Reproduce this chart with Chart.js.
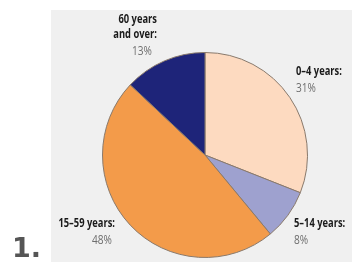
<!DOCTYPE html>
<html>
<head>
<meta charset="utf-8">
<script src="https://cdn.jsdelivr.net/npm/chart.js@4/dist/chart.umd.min.js"></script>
<style>
  html, body { margin: 0; padding: 0; background: #ffffff; }
  #pie { display: block; }
</style>
</head>
<body>
<canvas id="pie" width="352" height="265"></canvas>
<script>
// age groups, share of population (%)
var ageGroups = ["0–4 years:", "5–14 years:", "15–59 years:", "60 years and over:"];
var shares = [31, 8, 48, 13];
var sliceColors = ["#fddac0", "#9ea1cf", "#f39b4a", "#1e2479"];

// label text lines for each slice (name lines, percent goes below)
var labelLines = [
    ["0–4 years:"],
    ["5–14 years:"],
    ["15–59 years:"],
    ["60 years", "and over:"]
];

var boldFont = "bold 13px 'Open Sans', 'DejaVu Sans', sans-serif";
var regFont = "13px 'Open Sans', 'DejaVu Sans', sans-serif";
var squeeze = 0.72; // fake a condensed face

function narrowText(ctx, txt, x, y, k) {
    var w = ctx.measureText(txt).width;
    ctx.fillText(txt, x, y, w * (k || squeeze));
}

var panelPlugin = {
    id: 'panel',
    beforeDraw: function(chart) {
        var ctx = chart.ctx;
        ctx.save();
        ctx.fillStyle = "#f0f0f0";
        ctx.fillRect(51, 10, 301, 252);
        ctx.restore();
    },
    afterDraw: function(chart) {
        var ctx = chart.ctx;
        // where each label block sits: x, first baseline, alignment
        var spots = [
            { x: 296, y: 75, align: "left" },
            { x: 294, y: 227, align: "left" },
            { x: 115, y: 227, align: "right", pctX: 112 },
            { x: 157, y: 23, align: "right", pctX: 152 }
        ];
        ctx.save();
        spots.forEach(function(s, i) {
            ctx.textAlign = s.align;
            ctx.textBaseline = "alphabetic";
            ctx.fillStyle = "#1a1a1a";
            ctx.font = boldFont;
            var y = s.y;
            labelLines[i].forEach(function(line) {
                narrowText(ctx, line, s.x, y);
                y += 15;
            });
            ctx.fillStyle = "#6e6e6e";
            ctx.font = regFont;
            narrowText(ctx, shares[i] + "%", s.pctX || s.x, y + 2, 0.78);
        });
        // figure number
        ctx.textAlign = "left";
        ctx.fillStyle = "#555555";
        ctx.font = "bold 27px 'DejaVu Sans', sans-serif";
        ctx.fillText("1.", 12, 257);
        ctx.restore();
    }
};

var ctx = document.getElementById("pie");
var PieChart = new Chart(ctx, {
    type: 'pie',
    data: {
        labels: ageGroups,
        datasets: [{
            data: shares,
            backgroundColor: sliceColors,
            borderColor: "#8a7a6c",
            borderWidth: 1
        }]
    },
    options: {
        responsive: false,
        animation: false,
        layout: { padding: { left: 102, right: 44, top: 52, bottom: 7 } },
        plugins: {
            legend: { display: false },
            tooltip: { enabled: false }
        }
    },
    plugins: [panelPlugin]
});
</script>
</body>
</html>
